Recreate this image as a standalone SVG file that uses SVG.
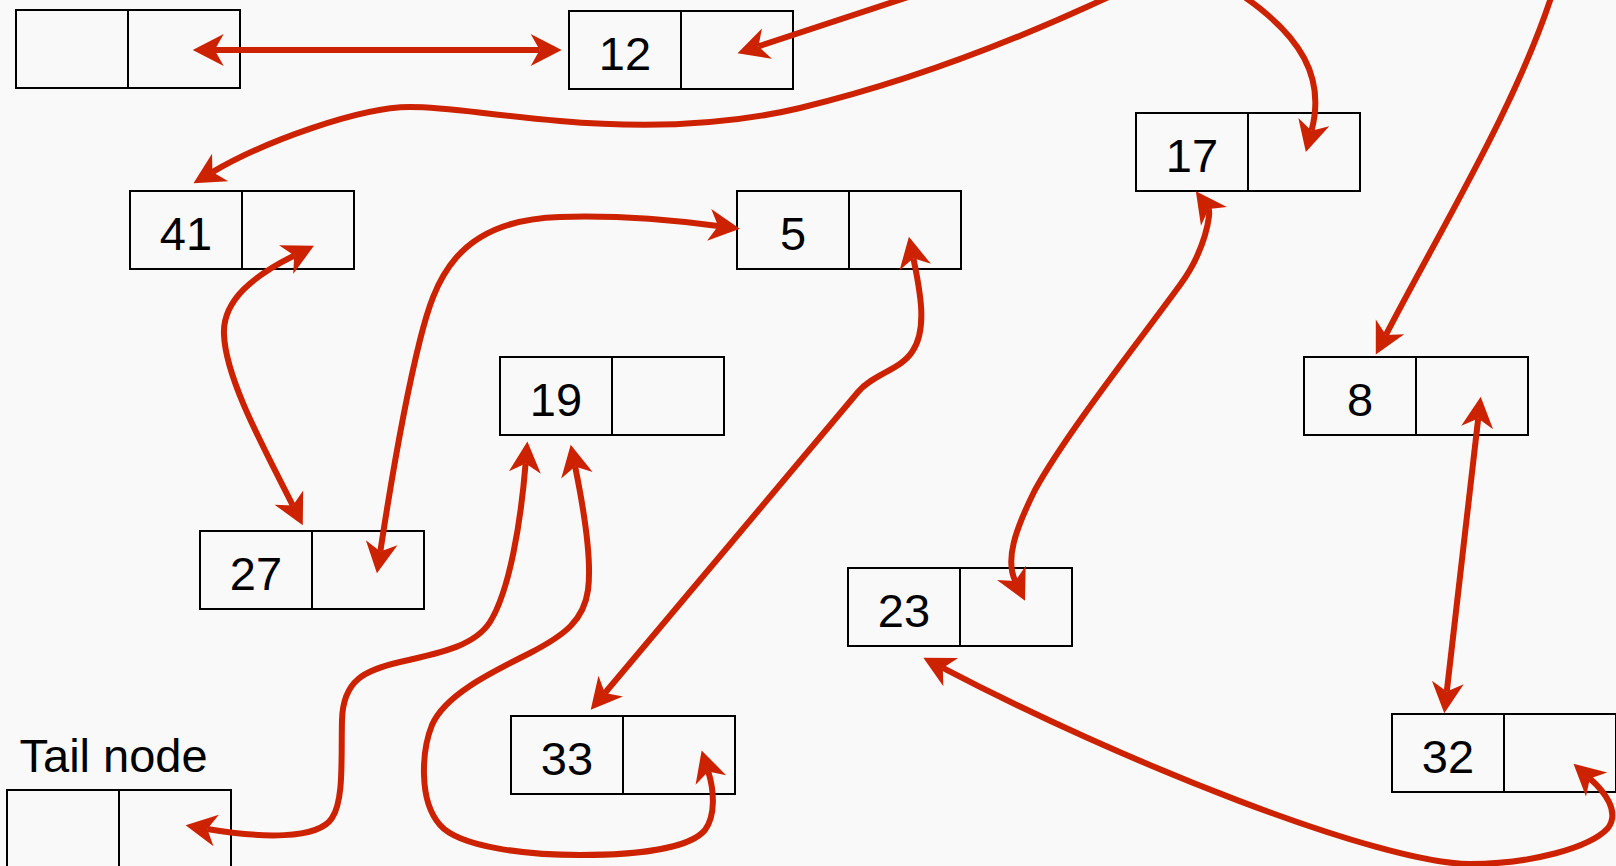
<svg xmlns="http://www.w3.org/2000/svg" width="1616" height="866" viewBox="0 0 1616 866">
  <style>
    .cell { fill: #f9f9f9; stroke: #000; stroke-width: 2; }
    .div { stroke: #000; stroke-width: 2; }
    .val { font-family: "Liberation Sans", Arial, sans-serif; font-size: 47px; fill: #000; text-anchor: middle; }
    .cap { font-family: "Liberation Sans", Arial, sans-serif; font-size: 47px; fill: #000; }
    .edge { fill: none; stroke: #cc2200; stroke-width: 6; stroke-linecap: butt; }
    .one { marker-end: url(#ah); }
    .two { marker-start: url(#ah); marker-end: url(#ah); }
  </style>
  <defs>
    <!-- classic notched arrowhead; origin sits at the notch, tip 22px ahead -->
    <marker id="ah" markerUnits="userSpaceOnUse" markerWidth="40" markerHeight="40" refX="0" refY="0" orient="auto-start-reverse" overflow="visible">
      <path d="M22,0 L-9,-16 L0,0 L-9,16 Z" fill="#cc2200"/>
    </marker>
  </defs>

  <rect x="0" y="0" width="1616" height="866" fill="#f9f9f9"/>

  <!-- list nodes: value cell + pointer cell -->
  <g id="node-head" transform="translate(16,10)">
    <rect class="cell" width="224" height="78"/><line class="div" x1="112" y1="0" x2="112" y2="78"/>
  </g>
  <g id="node-12" transform="translate(569,11)">
    <rect class="cell" width="224" height="78"/><line class="div" x1="112" y1="0" x2="112" y2="78"/>
    <text class="val" x="56" y="58.5">12</text>
  </g>
  <g id="node-41" transform="translate(130,191)">
    <rect class="cell" width="224" height="78"/><line class="div" x1="112" y1="0" x2="112" y2="78"/>
    <text class="val" x="56" y="58.5">41</text>
  </g>
  <g id="node-5" transform="translate(737,191)">
    <rect class="cell" width="224" height="78"/><line class="div" x1="112" y1="0" x2="112" y2="78"/>
    <text class="val" x="56" y="58.5">5</text>
  </g>
  <g id="node-17" transform="translate(1136,113)">
    <rect class="cell" width="224" height="78"/><line class="div" x1="112" y1="0" x2="112" y2="78"/>
    <text class="val" x="56" y="58.5">17</text>
  </g>
  <g id="node-19" transform="translate(500,357)">
    <rect class="cell" width="224" height="78"/><line class="div" x1="112" y1="0" x2="112" y2="78"/>
    <text class="val" x="56" y="58.5">19</text>
  </g>
  <g id="node-8" transform="translate(1304,357)">
    <rect class="cell" width="224" height="78"/><line class="div" x1="112" y1="0" x2="112" y2="78"/>
    <text class="val" x="56" y="58.5">8</text>
  </g>
  <g id="node-27" transform="translate(200,531)">
    <rect class="cell" width="224" height="78"/><line class="div" x1="112" y1="0" x2="112" y2="78"/>
    <text class="val" x="56" y="58.5">27</text>
  </g>
  <g id="node-23" transform="translate(848,568)">
    <rect class="cell" width="224" height="78"/><line class="div" x1="112" y1="0" x2="112" y2="78"/>
    <text class="val" x="56" y="58.5">23</text>
  </g>
  <g id="node-33" transform="translate(511,716)">
    <rect class="cell" width="224" height="78"/><line class="div" x1="112" y1="0" x2="112" y2="78"/>
    <text class="val" x="56" y="58.5">33</text>
  </g>
  <g id="node-32" transform="translate(1392,714)">
    <rect class="cell" width="224" height="78"/><line class="div" x1="112" y1="0" x2="112" y2="78"/>
    <text class="val" x="56" y="58.5">32</text>
  </g>
  <g id="node-tail" transform="translate(7,790)">
    <text class="cap" x="12.5" y="-18">Tail node</text>
    <rect class="cell" width="224" height="78"/><line class="div" x1="112" y1="0" x2="112" y2="78"/>
  </g>

  <!-- pointer links -->
  <g id="connectors">
    <path class="edge two" d="M214.7,50 L539.7,50"/>
    <path class="edge one" d="M927.5,-9.4 L758.4,46.4"/>
    <path class="edge one" d="M1115,-6 C1000,48 900,84 800,108 C720,127 640,128 560,121 C480,114 450,107 410,107 C360,107 264,141.6 212.4,172.1"/>
    <path class="edge one" d="M1231,-12 C1305,35 1325,80 1311.5,130.8"/>
    <path class="edge one" d="M1555,-15 C1520,100 1440,230 1385.9,334.9"/>
    <path class="edge two" d="M294.2,255.6 C255,275 222,300 224,335 C226,380 265,450 292.9,505.6"/>
    <path class="edge two" d="M380.3,551.6 C386,515 400,420 420,340 C434.6,281.8 455,220 560,217 C620,215 680,221 718.1,226"/>
    <path class="edge two" d="M913.4,258.3 C920,290 928,330 912,352 C900,370 873,374 858,392 L604.9,693"/>
    <path class="edge two" d="M1208.7,209.1 C1211,212.3 1206,250 1180,285 C1140,340 1065,435 1035,490 C1015,530 1005,560 1015.3,581"/>
    <path class="edge two" d="M1478.2,418.6 L1446.8,691.4"/>
    <path class="edge two" d="M942.8,667.9 C1119.8,760.9 1380,864 1470,864 C1530,864 1590,848 1608,828 C1620,812 1605,792 1589.9,778.5"/>
    <path class="edge two" d="M525.6,463.5 C521,520 510,590 490,622 C475,645 445,652 400,662 C365,670 343,680 342,720 C341,760 344,800 332,818 C318,840 260,838 207.3,829"/>
    <path class="edge two" d="M575.1,466.4 C584,510 592,560 588,590 C584,620 565,635 530,653 C490,673 445,695 432,725 C422,750 418,800 440,825 C460,848 530,855 580,855 C640,855 690,848 705,830 C716,815 714,790 708.2,771.4"/>
  </g>
</svg>
